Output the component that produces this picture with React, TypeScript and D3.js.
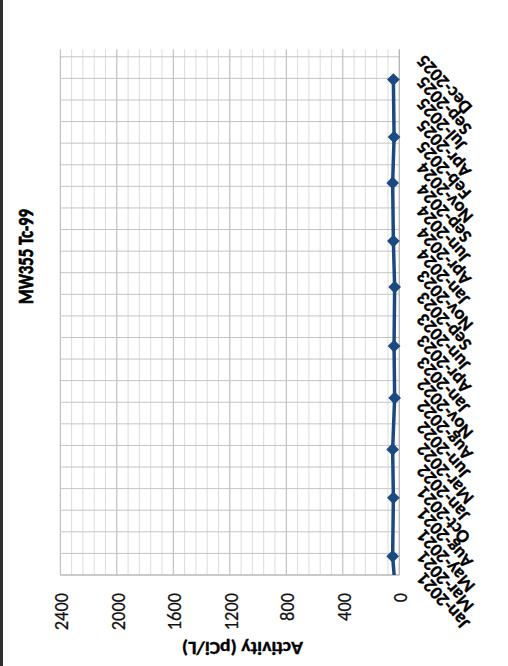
import React from "react";
import * as d3 from "d3";

const chartTitle = "MW355 Tc-99";
const axisTitle = "Activity (pCi/L)";
const sampleDates = [
  "2020-09-15", "2021-03-07", "2021-09-26", "2022-03-13", "2022-09-08",
  "2023-03-07", "2023-09-28", "2024-03-06", "2024-09-24", "2025-03-02", "2025-09-18",
];
const activity = [20, 47, 42, 47, 33, 37, 33, 42, 47, 37, 42];
const valueTicks = [0, 400, 800, 1200, 1600, 2000, 2400];
const minorStep = 80;
const dateStart = new Date(2021, 0, 1);
const dateEnd = new Date(2026, 0, 1);
const dateStepDays = 75;
const dateTickCount = 25;

const W = 508;
const H = 666;
const FONT = "Carlito, Lato, 'Open Sans', sans-serif";
const BLUE = "#1b4a80";

export default function App() {
  const x = d3.scaleLinear().domain([0, 2400]).range([399.3, 60.3]);
  const y = d3.scaleTime().domain([dateStart, dateEnd]).range([575, 49.3]);

  const dateTicks = d3.range(dateTickCount).map((i) => d3.timeDay.offset(dateStart, i * dateStepDays));
  const minorVals = d3.range(0, 2400 + 1, minorStep);
  const fmt = d3.timeFormat("%b-%Y");
  const parse = d3.timeParse("%Y-%m-%d");

  const pts = sampleDates.map((s, i) => ({ d: parse(s) as Date, v: activity[i] }));
  const line = d3.line<{ d: Date; v: number }>().x((p) => x(p.v)).y((p) => y(p.d));
  const plotTop = y(dateEnd);
  const plotBottom = y(dateStart);
  const plotLeft = x(2400);
  const plotRight = x(0);

  return (
    <svg width={W} height={H} style={{ position: "absolute", left: 0, top: 0, display: "block", background: "#fff" }} fontFamily={FONT}>
      <defs>
        <clipPath id="plotClip">
          <rect x={plotLeft} y={plotTop} width={plotRight - plotLeft} height={plotBottom - plotTop} />
        </clipPath>
      </defs>
      <rect x={0} y={0} width={W} height={H} fill="#fff" />
      <rect x={0} y={0} width={3} height={H} fill="#2d2f2a" />

      {minorVals.map((v) => (
        <line key={"v" + v} x1={x(v)} x2={x(v)} y1={plotTop} y2={plotBottom}
          stroke={v % 400 === 0 ? "#b4b4b4" : "#dcdcdc"} strokeWidth={1} />
      ))}
      {dateTicks.map((d, i) => (
        <line key={"d" + i} x1={plotLeft} x2={plotRight} y1={y(d)} y2={y(d)} stroke="#c4c4c4" strokeWidth={1} />
      ))}
      <line x1={plotRight} x2={plotRight} y1={plotTop} y2={plotBottom} stroke="#b4b4b4" strokeWidth={1} />
      <line x1={plotLeft} x2={plotRight} y1={plotBottom} y2={plotBottom} stroke="#b4b4b4" strokeWidth={1} />

      <g clipPath="url(#plotClip)">
        <path d={line(pts) || ""} fill="none" stroke={BLUE} strokeWidth={3.5} strokeLinejoin="round" />
      </g>
      {pts.filter((p) => p.d >= dateStart).map((p, i) => (
        <rect key={"m" + i} x={-4.5} y={-4.5} width={9} height={9} fill={BLUE}
          transform={`translate(${x(p.v)},${y(p.d)}) rotate(45)`} />
      ))}

      {valueTicks.map((v) => {
        const s = String(v);
        return (
          <text key={"vt" + v} transform={`translate(${x(v) + 7.8},593) rotate(-90)`} textAnchor="end"
            fontSize={21} fontWeight={500} textLength={9.3 * s.length} lengthAdjust="spacingAndGlyphs"
            fill="#111" stroke="#111" strokeWidth={0.25}>
            {s}
          </text>
        );
      })}

      {dateTicks.map((d, i) => (
        <text key={"dt" + i} transform={`translate(420,${y(d) + 1}) rotate(-132)`} textAnchor="end"
          dominantBaseline="central" fontSize={18.5} fontWeight="bold" fill="#000" stroke="#000" strokeWidth={0.35}>
          {fmt(d)}
        </text>
      ))}

      <text transform="translate(33,256.5) rotate(-90)" textAnchor="middle" fontSize={22} fontWeight="900"
        textLength={95} lengthAdjust="spacingAndGlyphs" fill="#000" stroke="#000" strokeWidth={0.7}>
        {chartTitle}
      </text>
      <text transform="translate(242.5,641.5) rotate(180)" textAnchor="middle" fontSize={17.5} fontWeight="bold"
        textLength={121} lengthAdjust="spacingAndGlyphs" fill="#000" stroke="#000" strokeWidth={0.35}>
        {axisTitle}
      </text>
    </svg>
  );
}
